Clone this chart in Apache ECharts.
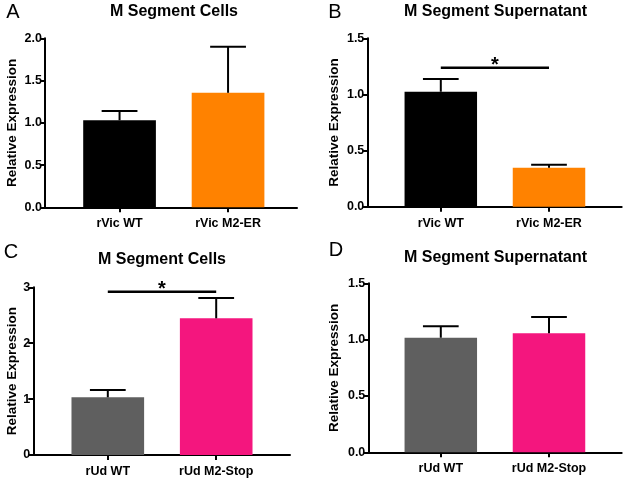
<!DOCTYPE html>
<html>
<head>
<meta charset="utf-8">
<script src="https://cdn.jsdelivr.net/npm/echarts@6/dist/echarts.min.js"></script>
<style>html,body{margin:0;padding:0;background:#fff}#main{width:625px;height:479px}</style>
</head>
<body>
<div id="main"></div>
<script>
// ---- Data ----
const catsAB = ['rVic WT', 'rVic M2-ER'];
const catsCD = ['rUd WT', 'rUd M2-Stop'];
const titles = ['M Segment Cells', 'M Segment Supernatant', 'M Segment Cells', 'M Segment Supernatant'];
const letters = ['A', 'B', 'C', 'D'];
const meanA = [1.03, 1.355];
const errA = [0.11, 0.545];
const meanB = [1.024, 0.347];
const errB = [0.113, 0.027];
const meanC = [1.032, 2.445];
const errC = [0.131, 0.365];
const meanD = [1.017, 1.056];
const errD = [0.101, 0.145];
const sigA = null;
const sigB = 1.238;
const sigC = 2.92;
const sigD = null;
const yMax = [2.0, 1.5, 3, 1.5];
const yStep = [0.5, 0.5, 1, 0.5];
const yDecimals = [1, 1, 0, 1];
const colorsAB = ['#000000', '#FF8200'];
const colorsCD = ['#5F5F5F', '#F4167E'];

// ---- Layout (pixels) ----
const layout = [
  {ol: 45, ow: 252, il: 65.3, iw: 217, top: 38.3, h: 169, gap: 26, tx: 174, ty: 12, lx: 13, ly: 12},
  {ol: 367.3, ow: 254.4, il: 386.7, iw: 216.4, top: 38.3, h: 168.4, gap: 26, tx: 495.5, ty: 12, lx: 335, ly: 12},
  {ol: 33.3, ow: 256.7, il: 53.6, iw: 216.8, top: 287.3, h: 167.7, gap: 14.5, tx: 162, ty: 260, lx: 11, ly: 252},
  {ol: 368.3, ow: 253.4, il: 386.7, iw: 216.4, top: 283.3, h: 169, gap: 27.5, tx: 495.5, ty: 258, lx: 336, ly: 250}
];

const panelData = [
  {cats: catsAB, mean: meanA, err: errA, sig: sigA, colors: colorsAB},
  {cats: catsAB, mean: meanB, err: errB, sig: sigB, colors: colorsAB},
  {cats: catsCD, mean: meanC, err: errC, sig: sigC, colors: colorsCD},
  {cats: catsCD, mean: meanD, err: errD, sig: sigD, colors: colorsCD}
];

const FONT = '"Liberation Sans", Arial, sans-serif';
const grid = [], xAxis = [], yAxis = [], series = [], graphic = [];

panelData.forEach((p, i) => {
  const L = layout[i];
  grid.push({left: L.ol, width: L.ow, top: L.top, height: L.h, containLabel: false});
  grid.push({left: L.il, width: L.iw, top: L.top, height: L.h, containLabel: false});
  const go = 2 * i, gi = 2 * i + 1;
  xAxis.push({
    type: 'value', gridIndex: go, min: 0, max: 1,
    axisLine: {show: true, onZero: false, lineStyle: {color: '#000', width: 2}},
    axisTick: {show: false}, axisLabel: {show: false}, splitLine: {show: false}
  });
  xAxis.push({
    type: 'category', gridIndex: gi, data: p.cats,
    axisLine: {show: false},
    axisTick: {show: true, alignWithLabel: true, length: 5, lineStyle: {color: '#000', width: 2}},
    axisLabel: {color: '#000', fontFamily: FONT, fontWeight: 'bold', fontSize: 12.5, margin: 10}
  });
  yAxis.push({
    type: 'value', gridIndex: go, min: 0, max: yMax[i], interval: yStep[i],
    name: 'Relative Expression', nameLocation: 'middle', nameGap: L.gap,
    nameTextStyle: {color: '#000', fontFamily: FONT, fontWeight: 'bold', fontSize: 13.5},
    axisLine: {show: true, lineStyle: {color: '#000', width: 2}},
    axisTick: {show: true, length: 5, lineStyle: {color: '#000', width: 2}},
    axisLabel: {color: '#000', fontFamily: FONT, fontWeight: 'bold', fontSize: 12.5, margin: 3,
      formatter: v => v.toFixed(yDecimals[i])},
    splitLine: {show: false}
  });
  yAxis.push({
    type: 'value', gridIndex: gi, min: 0, max: yMax[i], interval: yStep[i], show: false
  });

  series.push({
    type: 'bar', xAxisIndex: 2 * i + 1, yAxisIndex: 2 * i + 1,
    barWidth: '67%',
    data: p.mean.map((v, k) => ({value: v, itemStyle: {color: p.colors[k]}})),
    z: 2
  });
  series.push({
    type: 'custom', xAxisIndex: 2 * i + 1, yAxisIndex: 2 * i + 1, z: 5,
    data: p.mean.map((v, k) => [k, v, p.err[k]]),
    renderItem: (params, api) => {
      const k = api.value(0), m = api.value(1), e = api.value(2);
      const base = api.coord([k, m]);
      const top = api.coord([k, m + e]);
      const hw = api.size([1, 0])[0] * 0.165;
      return {
        type: 'group',
        children: [
          {type: 'line', shape: {x1: base[0], y1: base[1], x2: top[0], y2: top[1]}, style: {stroke: '#000', lineWidth: 2}},
          {type: 'line', shape: {x1: top[0] - hw, y1: top[1], x2: top[0] + hw, y2: top[1]}, style: {stroke: '#000', lineWidth: 2}}
        ]
      };
    }
  });
  if (p.sig !== null) {
    series.push({
      type: 'custom', xAxisIndex: 2 * i + 1, yAxisIndex: 2 * i + 1, z: 5,
      data: [[0, 1, p.sig]],
      renderItem: (params, api) => {
        const a = api.coord([api.value(0), api.value(2)]);
        const b = api.coord([api.value(1), api.value(2)]);
        return {
          type: 'group',
          children: [
            {type: 'line', shape: {x1: a[0], y1: a[1], x2: b[0], y2: b[1]}, style: {stroke: '#000', lineWidth: 2.5}},
            {type: 'text', style: {x: (a[0] + b[0]) / 2, y: a[1] - 2.5, text: '*', fill: '#000',
              font: 'bold 20px ' + FONT, textAlign: 'center', textVerticalAlign: 'middle'}}
          ]
        };
      }
    });
  }
  graphic.push({type: 'text', x: L.tx, y: L.ty, style: {text: titles[i], fill: '#000',
    font: 'bold 16px ' + FONT, textAlign: 'center', textVerticalAlign: 'middle'}});
  graphic.push({type: 'text', x: L.lx, y: L.ly, style: {text: letters[i], fill: '#000',
    font: '20px ' + FONT, textAlign: 'center', textVerticalAlign: 'middle'}});
});

const chart = echarts.init(document.getElementById('main'), null, {renderer: 'canvas'});
chart.setOption({
  animation: false,
  backgroundColor: '#fff',
  grid, xAxis, yAxis, series, graphic
});
</script>
</body>
</html>
